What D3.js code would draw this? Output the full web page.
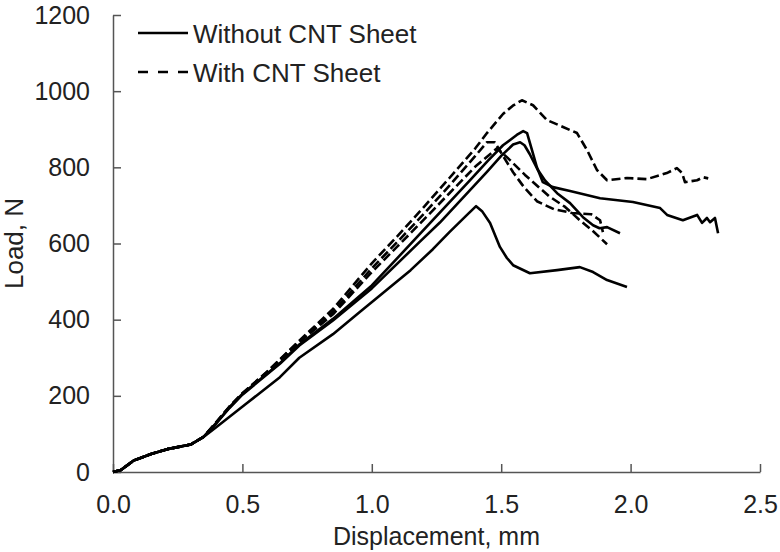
<!DOCTYPE html>
<html>
<head>
<meta charset="utf-8">
<script src="https://cdn.jsdelivr.net/npm/d3@7"></script>
<style>
  body { margin: 0; background: #fff; }
  text { font-family: "Liberation Sans", Arial, sans-serif; }
</style>
</head>
<body>
<div id="chart"></div>
<script>
// displacement (mm) / load (N)
const start = [[0, 0], [0.03, 5], [0.08, 30], [0.15, 48], [0.21, 60], [0.3, 72], [0.35, 92]]

const withoutA = [[0.4, 130], [0.45, 170], [0.5, 205], [0.645, 286], [0.72, 335], [0.85, 402], [1.0, 490],
    [1.186, 625], [1.379, 766], [1.45, 818], [1.507, 858], [1.56, 885], [1.585, 895], [1.6, 890],
    [1.619, 845], [1.638, 800], [1.661, 761], [1.7, 748], [1.766, 738], [1.882, 719], [2.009, 709], [2.114, 693],
    [2.141, 675], [2.202, 661], [2.257, 675], [2.276, 654], [2.295, 667], [2.307, 656], [2.326, 667], [2.338, 627]]

const withoutB = [[0.4, 128], [0.45, 168], [0.5, 203], [0.645, 284], [0.72, 332], [0.85, 398], [1.0, 482],
    [1.186, 605], [1.263, 655], [1.445, 788], [1.5, 830], [1.546, 860], [1.573, 866], [1.59, 858],
    [1.61, 835], [1.64, 795], [1.67, 765], [1.716, 732], [1.766, 706], [1.816, 669], [1.855, 648], [1.88, 640],
    [1.909, 643], [1.959, 627]]

const withoutC = [[0.4, 118], [0.518, 181], [0.645, 249], [0.72, 300], [0.85, 362], [0.95, 418], [1.043, 470],
    [1.15, 530], [1.236, 585], [1.3, 630], [1.368, 675], [1.403, 698], [1.426, 685], [1.457, 654], [1.495, 591],
    [1.522, 562], [1.546, 543], [1.611, 522], [1.716, 530], [1.804, 538], [1.855, 525], [1.909, 504], [1.986, 486]]

const withA = [[0.4, 132], [0.45, 172], [0.5, 207], [0.6, 266], [0.72, 345], [0.85, 428], [1.0, 548], [1.1, 620],
    [1.2, 695], [1.3, 772], [1.4, 850], [1.445, 890], [1.507, 940], [1.545, 962], [1.58, 976], [1.623, 963],
    [1.677, 924], [1.739, 906], [1.793, 890], [1.832, 845], [1.87, 793], [1.909, 766], [1.986, 772], [2.063, 769],
    [2.14, 785], [2.179, 798], [2.199, 785], [2.21, 761], [2.257, 766], [2.28, 774], [2.3, 771]]

const withB = [[0.4, 131], [0.45, 171], [0.5, 206], [0.6, 265], [0.72, 343], [0.85, 420], [1.0, 535], [1.1, 605],
    [1.2, 677], [1.3, 752], [1.4, 830], [1.445, 866], [1.475, 866], [1.507, 830], [1.546, 787], [1.588, 748],
    [1.638, 711], [1.704, 690], [1.774, 680], [1.847, 677], [1.882, 661], [1.893, 630]]

const withC = [[0.4, 130], [0.45, 170], [0.5, 205], [0.6, 264], [0.72, 341], [0.85, 414], [1.0, 525], [1.1, 593],
    [1.2, 662], [1.3, 732], [1.4, 802], [1.484, 850], [1.534, 819], [1.592, 780], [1.685, 724], [1.747, 696],
    [1.804, 661], [1.851, 635], [1.909, 598]]

const xTicks = [0, 0.5, 1.0, 1.5, 2.0, 2.5]
const yTicks = [0, 200, 400, 600, 800, 1000, 1200]
const legendLabels = ["Without CNT Sheet", "With CNT Sheet"]

const width = 780
const height = 552

const svg = d3.select("#chart")
    .append("svg")
    .attr("width", width)
    .attr("height", height)

const x = d3.scaleLinear().domain([0, 2.5]).range([113, 760])
const y = d3.scaleLinear().domain([0, 1200]).range([472, 15])

// axes, ticks point inwards
const xAxis = svg.append("g")
    .attr("transform", `translate(0,${y(0)})`)
    .call(d3.axisBottom(x).tickValues(xTicks).tickFormat(d3.format(".1f"))
        .tickSizeInner(-8).tickSizeOuter(0).tickPadding(23))
const yAxis = svg.append("g")
    .attr("transform", `translate(${x(0)},0)`)
    .call(d3.axisLeft(y).tickValues(yTicks).tickFormat(d3.format("d"))
        .tickSizeInner(-8).tickSizeOuter(0).tickPadding(23))

for (const ax of [xAxis, yAxis]) {
    ax.select(".domain").attr("stroke", "#555").attr("stroke-width", 1.5)
    ax.selectAll(".tick line").attr("stroke", "#555").attr("stroke-width", 1.5)
    ax.selectAll(".tick text").attr("fill", "#222").style("font-size", "25px")
        .style("font-family", "'Liberation Sans', Arial, sans-serif")
}

const line = d3.line().x(d => x(d[0])).y(d => y(d[1]))

const series = [
    {data: start.concat(withoutA), dash: null},
    {data: start.concat(withoutB), dash: null},
    {data: start.concat(withoutC), dash: null},
    {data: start.concat(withA), dash: "9,4"},
    {data: start.concat(withB), dash: "9,4"},
    {data: start.concat(withC), dash: "9,4"}
]

svg.append("g").selectAll("path")
    .data(series)
    .join("path")
    .attr("d", d => line(d.data))
    .attr("fill", "none")
    .attr("stroke", "#000")
    .attr("stroke-width", 2.6)
    .attr("stroke-linejoin", "round")
    .attr("stroke-dasharray", d => d.dash)

// legend
const legend = svg.append("g")
legendLabels.forEach((label, i) => {
    const ly = 33 + i * 39
    legend.append("line")
        .attr("x1", 138).attr("x2", 188)
        .attr("y1", ly).attr("y2", ly)
        .attr("stroke", "#000").attr("stroke-width", 2.6)
        .attr("stroke-dasharray", i == 1 ? "10,10" : null)
    legend.append("text")
        .attr("x", 193).attr("y", ly + 10)
        .attr("fill", "#222")
        .style("font-size", "26px")
        .text(label)
})

// axis titles
svg.append("text")
    .attr("x", x(1.25)).attr("y", 545)
    .attr("text-anchor", "middle")
    .attr("fill", "#222")
    .style("font-size", "25px")
    .text("Displacement, mm")

svg.append("text")
    .attr("transform", `translate(23,${(y(0) + y(1200)) / 2}) rotate(-90)`)
    .attr("text-anchor", "middle")
    .attr("fill", "#222")
    .style("font-size", "26px")
    .text("Load, N")
</script>
</body>
</html>
